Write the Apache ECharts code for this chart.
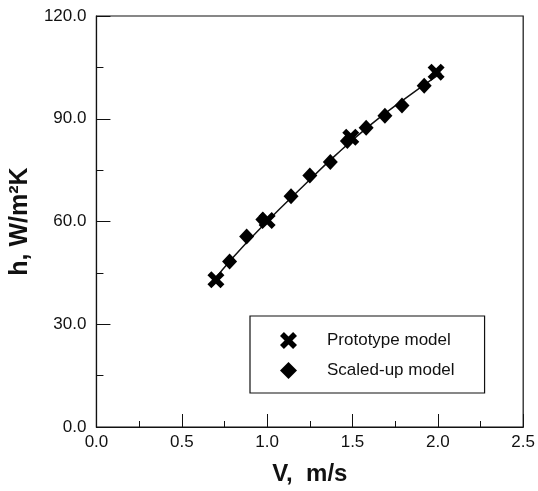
<!DOCTYPE html>
<html>
<head>
<meta charset="utf-8">
<script src="https://cdn.jsdelivr.net/npm/echarts@6/dist/echarts.min.js"></script>
<style>
  html, body { margin: 0; padding: 0; background: #fff; }
  #chart { width: 538px; height: 491px; }
</style>
</head>
<body>
<div id="chart"></div>
<script>
// prototype model (X markers)
var protoV = [0.70, 1.00, 1.49, 1.99]
var protoH = [43.0, 60.3, 84.6, 103.6]
// scaled-up model (diamonds)
var scaledV = [0.78, 0.88, 0.975, 1.14, 1.25, 1.37, 1.47, 1.58, 1.69, 1.79, 1.92]
var scaledH = [48.3, 55.6, 60.6, 67.4, 73.4, 77.4, 83.5, 87.4, 90.9, 93.9, 99.6]
// fitted curve
var fitV = [0.68, 0.80, 1.00, 1.20, 1.40, 1.60, 1.80, 2.02]
var fitH = [42.3, 49.5, 60.0, 69.8, 79.3, 88.0, 95.6, 103.4]

var xTicks = { min: 0, max: 2.5, interval: 0.5 }
var yTicks = { min: 0, max: 120, interval: 30 }

function pairs(xs, ys) {
  let res = []
  for (let i = 0; i < xs.length; i++) {
    res.push([xs[i], ys[i]])
  }
  return res
}

// thick X cross
var crossPath = 'path://M0,2.3 L2.3,0 L5,2.7 L7.7,0 L10,2.3 L7.3,5 L10,7.7 L7.7,10 L5,7.3 L2.3,10 L0,7.7 L2.7,5 Z'

var font = 'Liberation Sans, Arial, sans-serif'
var myChart = echarts.init(document.getElementById('chart'))
var axisText = { color: '#111', fontSize: 17, fontFamily: font }
var option = {
  animation: false,
  grid: {
    left: 95,
    right: 14,
    top: 16,
    bottom: 63,
    show: true,
    borderColor: '#111',
    borderWidth: 1.2
  },
  xAxis: {
    type: 'value',
    min: xTicks.min,
    max: xTicks.max,
    interval: xTicks.interval,
    name: 'V,  m/s',
    nameLocation: 'middle',
    nameGap: 35,
    nameTextStyle: { fontSize: 24, fontWeight: 'bold', color: '#111', fontFamily: font },
    axisLine: { lineStyle: { color: '#111', width: 1.2 } },
    axisTick: { inside: true, length: 13, lineStyle: { color: '#111' } },
    minorTick: { show: true, splitNumber: 2, length: 6, lineStyle: { color: '#111' } },
    splitLine: { show: false },
    axisLabel: Object.assign({ margin: 7, formatter: function (v) { return v.toFixed(1) } }, axisText)
  },
  yAxis: {
    type: 'value',
    min: yTicks.min,
    max: yTicks.max,
    interval: yTicks.interval,
    name: 'h, W/m²K',
    nameLocation: 'middle',
    nameGap: 53,
    nameRotate: 90,
    nameTextStyle: { fontSize: 25, fontWeight: 'bold', color: '#111', fontFamily: font },
    axisLine: { lineStyle: { color: '#111', width: 1.2 } },
    axisTick: { inside: true, length: 14, lineStyle: { color: '#111' } },
    minorTick: { show: true, splitNumber: 2, length: 7, lineStyle: { color: '#111' } },
    splitLine: { show: false },
    axisLabel: Object.assign({ margin: 10, formatter: function (v) { return v.toFixed(1) } }, axisText)
  },
  legend: {
    orient: 'vertical',
    left: 250,
    top: 316,
    data: ['Prototype model', 'Scaled-up model'],
    backgroundColor: '#fff',
    borderColor: '#111',
    borderWidth: 1.2,
    padding: [16, 30, 14, 30],
    itemWidth: 17,
    itemHeight: 17,
    itemGap: 13,
    textStyle: { color: '#111', fontSize: 17, fontFamily: font, padding: [0, 0, 0, 25] }
  },
  series: [
    {
      name: 'fit',
      type: 'line',
      smooth: true,
      symbol: 'none',
      data: pairs(fitV, fitH),
      lineStyle: { color: '#111', width: 1.5 },
      z: 1
    },
    {
      name: 'Scaled-up model',
      type: 'scatter',
      symbol: 'diamond',
      symbolSize: [15, 16],
      data: pairs(scaledV, scaledH),
      itemStyle: { color: '#000', opacity: 1 },
      z: 3
    },
    {
      name: 'Prototype model',
      type: 'scatter',
      symbol: crossPath,
      symbolSize: 17,
      data: pairs(protoV, protoH),
      itemStyle: { color: '#000', opacity: 1 },
      z: 4
    }
  ]
}
myChart.setOption(option)
</script>
</body>
</html>
